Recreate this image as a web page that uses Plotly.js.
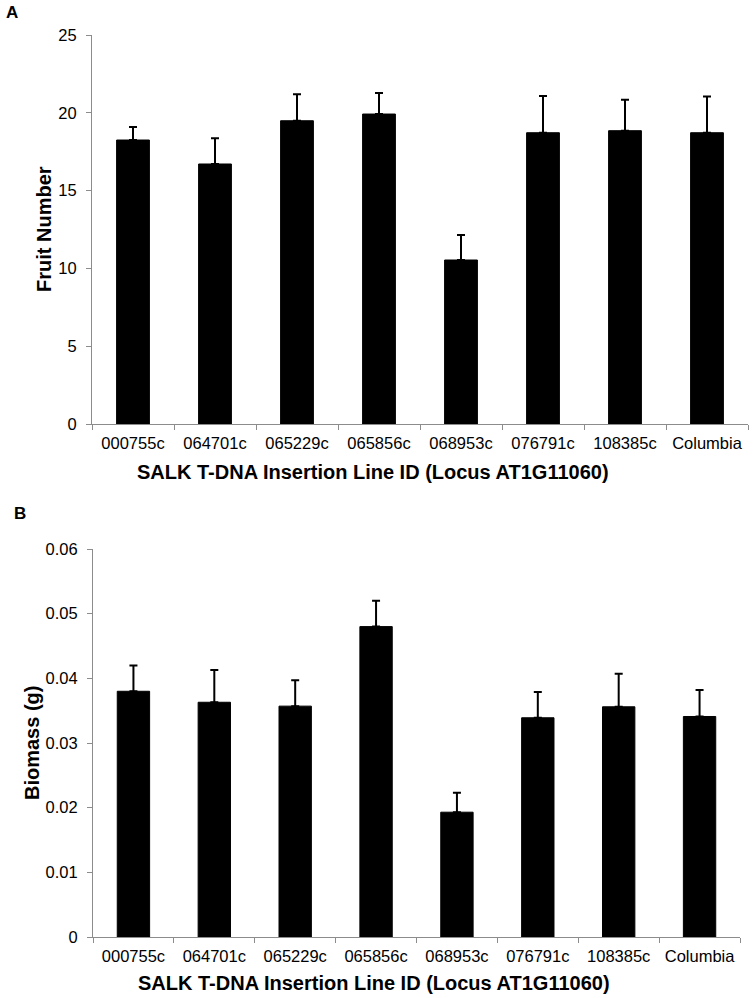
<!DOCTYPE html>
<html>
<head>
<meta charset="utf-8">
<script src="https://cdn.plot.ly/plotly-3.0.1.min.js"></script>
<style>html,body{margin:0;padding:0;background:#fff;}#chart{width:753px;height:998px;}</style>
</head>
<body>
<div id="chart"></div>
<script>
const categories = ['000755c','064701c','065229c','065856c','068953c','076791c','108385c','Columbia'];
const fruitNumber = [18.25, 16.71, 19.49, 19.92, 10.54, 18.72, 18.85, 18.72];
const fruitError = [0.84, 1.65, 1.70, 1.35, 1.61, 2.36, 1.99, 2.32];
const biomass = [0.0380, 0.0363, 0.0357, 0.0480, 0.0193, 0.0339, 0.0356, 0.0341];
const biomassError = [0.0040, 0.0050, 0.0040, 0.0040, 0.0030, 0.0040, 0.0051, 0.0041];
const fruitTicks = [0, 5, 10, 15, 20, 25];
const biomassTicks = [0, 0.01, 0.02, 0.03, 0.04, 0.05, 0.06];

const W = 753, H = 998;
const font = 'Liberation Sans, Arial, sans-serif';
const zeros = categories.map(() => 0);

function barTrace(y, err, xa, ya) {
  return {
    type: 'bar', x: categories, y: y, xaxis: xa, yaxis: ya,
    width: 0.4,
    marker: {color: '#000', line: {color: '#000', width: 1}},
    error_y: {type: 'data', symmetric: false, array: err, arrayminus: zeros,
              color: '#000', thickness: 2, width: 4},
    showlegend: false, hoverinfo: 'x+y'
  };
}

const data = [
  barTrace(fruitNumber, fruitError, 'x', 'y'),
  barTrace(biomass, biomassError, 'x2', 'y2')
];

const axisCommon = {
  showline: true, linecolor: '#8c8c8c', linewidth: 1,
  ticks: 'outside', tickcolor: '#8c8c8c', ticklen: 5, tickwidth: 1,
  showgrid: false, zeroline: false,
  tickfont: {family: font, size: 16.5, color: '#000'}
};

function xAxis(d0, d1, anchor) {
  return Object.assign({}, axisCommon, {
    domain: [d0 / W, d1 / W], anchor: anchor, type: 'category',
    range: [-0.5, categories.length - 0.5], tickson: 'boundaries',
    ticklabelstandoff: 4
  });
}
function yAxis(top, bottom, anchor, ticks, maxv) {
  return Object.assign({}, axisCommon, {
    domain: [1 - bottom / H, 1 - top / H], anchor: anchor,
    range: [0, maxv], tickvals: ticks, ticklabelstandoff: 6
  });
}

const layout = {
  width: W, height: H,
  margin: {l: 0, r: 0, t: 0, b: 0, pad: 0},
  paper_bgcolor: '#fff', plot_bgcolor: '#fff',
  bargap: 0.6,
  xaxis: xAxis(92, 748, 'y'),
  yaxis: yAxis(35, 424, 'x', fruitTicks, 25),
  xaxis2: xAxis(93, 740, 'y2'),
  yaxis2: yAxis(549, 937, 'x2', biomassTicks, 0.06),
  annotations: [
    {text: '<b>A</b>', x: 4 / W, y: 1 - 13 / H, xref: 'paper', yref: 'paper', xanchor: 'left', yanchor: 'middle', showarrow: false, font: {family: font, size: 17, color: '#000'}},
    {text: '<b>B</b>', x: 12 / W, y: 1 - 513 / H, xref: 'paper', yref: 'paper', xanchor: 'left', yanchor: 'middle', showarrow: false, font: {family: font, size: 17, color: '#000'}},
    {text: '<b>Fruit Number</b>', x: 44.5 / W, y: 1 - 229.5 / H, xref: 'paper', yref: 'paper', xanchor: 'center', yanchor: 'middle', textangle: -90, showarrow: false, font: {family: font, size: 20, color: '#000'}},
    {text: '<b>Biomass (g)</b>', x: 32 / W, y: 1 - 743 / H, xref: 'paper', yref: 'paper', xanchor: 'center', yanchor: 'middle', textangle: -90, showarrow: false, font: {family: font, size: 20, color: '#000'}},
    {text: '<b>SALK T-DNA Insertion Line ID (Locus AT1G11060)</b>', x: 373 / W, y: 1 - 472 / H, xref: 'paper', yref: 'paper', xanchor: 'center', yanchor: 'middle', showarrow: false, font: {family: font, size: 20, color: '#000'}},
    {text: '<b>SALK T-DNA Insertion Line ID (Locus AT1G11060)</b>', x: 374 / W, y: 1 - 983 / H, xref: 'paper', yref: 'paper', xanchor: 'center', yanchor: 'middle', showarrow: false, font: {family: font, size: 20, color: '#000'}}
  ]
};

Plotly.newPlot('chart', data, layout, {displayModeBar: false, staticPlot: true});
</script>
</body>
</html>
